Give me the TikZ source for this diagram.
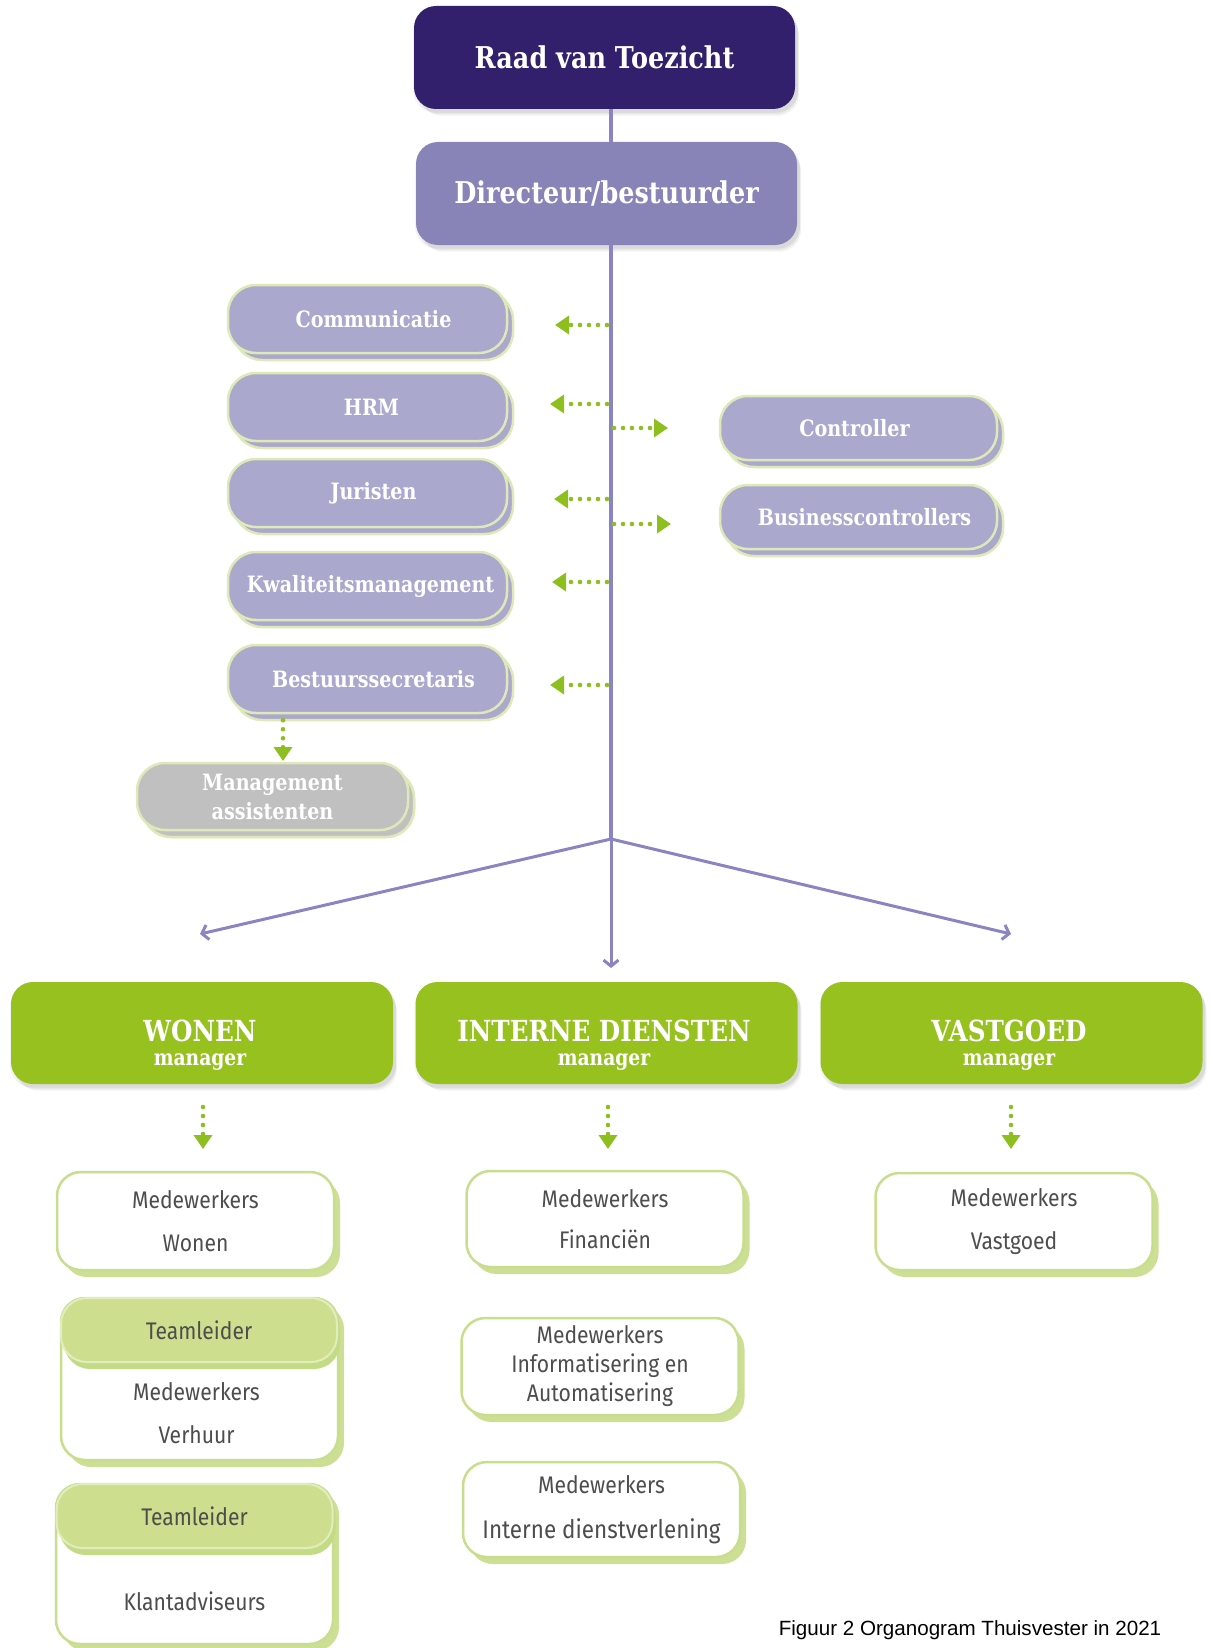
\documentclass[tikz,border=0pt]{standalone}
\usepackage{fontspec}
\usetikzlibrary{arrows.meta,shadows}
\setmainfont{Fira Sans}
\newfontfamily\slab[FakeStretch=0.85]{DejaVu Serif}
\newfontfamily\offi[FakeStretch=0.88]{Fira Sans}
\newfontfamily\capt{Liberation Sans}
\definecolor{raadc}{RGB}{50,32,108}
\definecolor{dirc}{RGB}{136,132,184}
\definecolor{stafffill}{RGB}{170,168,204}
\definecolor{staffborder}{RGB}{222,232,184}
\definecolor{graybox}{RGB}{192,192,192}
\definecolor{linec}{RGB}{138,132,194}
\definecolor{arrowg}{RGB}{141,191,31}
\definecolor{greenbox}{RGB}{151,193,31}
\definecolor{wborder}{RGB}{200,222,142}
\definecolor{wshadow}{RGB}{204,223,148}
\definecolor{hfill}{RGB}{205,223,143}
\definecolor{hborder}{RGB}{226,236,190}
\definecolor{hshadow}{RGB}{196,219,133}
\definecolor{txtgray}{RGB}{77,77,77}
\tikzset{
  softshadow/.style={
    general shadow={fill=black, opacity=0.05, shadow xshift=1pt, shadow yshift=-3pt, shadow scale=1.01},
    general shadow={fill=black, opacity=0.05, shadow xshift=3pt, shadow yshift=-5pt},
    general shadow={fill=black, opacity=0.05, shadow xshift=5pt, shadow yshift=-7pt, shadow scale=0.995}},
  topbox/.style={rounded corners=22pt, minimum width=381pt, minimum height=103pt, inner sep=0pt,
    text=white, font=\slab\bfseries\fontsize{30}{32}\selectfont, softshadow},
  staff/.style={rounded corners=28pt, fill=stafffill, draw=staffborder, line width=2.5pt,
    minimum width=279pt, minimum height=68pt, inner sep=0pt, text=white,
    font=\slab\bfseries\fontsize{22.5}{24}\selectfont,
    general shadow={fill=stafffill, draw=staffborder, line width=2.5pt, shadow xshift=6pt, shadow yshift=-7pt}},
  mgrbox/.style={rounded corners=22pt, fill=greenbox, minimum width=382pt, minimum height=102pt, inner sep=0pt,
    softshadow},
  mgrtext/.style={text=white, align=center, inner sep=0pt, font=\slab\bfseries\fontsize{22}{24}\selectfont},
  wbox/.style={rounded corners=24pt, fill=white, draw=wborder, line width=2.5pt,
    minimum width=277pt, inner sep=0pt, text=txtgray, align=center,
    general shadow={fill=wshadow, shadow xshift=6pt, shadow yshift=-7pt}},
  hbox/.style={rounded corners=26pt, fill=hfill, draw=hborder, line width=2pt,
    minimum width=276pt, minimum height=64pt, inner sep=0pt, text=txtgray,
    font=\offi\fontsize{24}{28}\selectfont,
    general shadow={fill=hshadow, shadow xshift=3pt, shadow yshift=-7pt}},
  wtext/.style={text=txtgray, inner sep=0pt, align=center},
  pline/.style={draw=linec, line width=4pt},
  parrow/.style={draw=linec, line width=3pt, -{Straight Barb[length=6pt,width=15pt,line width=3pt]}},
  garrow/.style={draw=arrowg, line width=4.6pt, line cap=round, dash pattern=on 0pt off 9pt,
    -{Triangle[length=14pt,width=18pt,line cap=butt]}}
}
\begin{document}
\begin{tikzpicture}[x=1pt,y=-1pt]
\useasboundingbox (0,0) rectangle (1210,1648);
\coordinate (br) at (611,839);

% top boxes
\node[topbox, fill=raadc] (raad) at (604.5,57.5) {Raad van Toezicht};
\node[topbox, fill=dirc] (dir) at (606.5,193.5) {Directeur/bestuurder};
\draw[pline] (raad.south -| br) -- (dir.north -| br);
\draw[pline] (dir.south -| br) -- (br);

% staff boxes
\node[staff] (comm) at (367.5,319) {\hspace*{12pt}Communicatie};
\node[staff] (hrm) at (367.5,407) {\hspace*{8pt}HRM};
\node[staff] (jur) at (367.5,493) {\hspace*{12pt}Juristen};
\node[staff] (kwal) at (367.5,586) {\hspace*{6pt}Kwaliteitsmanagement};
\node[staff] (best) at (367.5,679) {\hspace*{12pt}Bestuurssecretaris};
\node[staff, fill=graybox, minimum width=271pt, minimum height=67pt, align=center,
  font=\slab\bfseries\fontsize{22.5}{29}\selectfont,
  general shadow={fill=graybox, draw=staffborder, line width=2.5pt, shadow xshift=6pt, shadow yshift=-7pt}]
  (mgmt) at (272.5,796.5) {Management\\assistenten};
\node[staff, minimum width=277pt, minimum height=64pt] (ctrl) at (858.5,428) {Controller\hspace*{8pt}};
\node[staff, minimum width=277pt, minimum height=64pt] (bctrl) at (858.5,517) {\hspace*{12pt}Businesscontrollers};

% green dotted arrows from the line
\coordinate (c1s) at (607,325); \coordinate (c1e) at (555,325);
\coordinate (c2s) at (607,404); \coordinate (c2e) at (550,404);
\coordinate (c3s) at (614,428); \coordinate (c3e) at (668,428);
\coordinate (c4s) at (607,499); \coordinate (c4e) at (554,499);
\coordinate (c5s) at (614,524); \coordinate (c5e) at (671,524);
\coordinate (c6s) at (607,582); \coordinate (c6e) at (552,582);
\coordinate (c7s) at (607,685); \coordinate (c7e) at (550,685);
\draw[garrow] (c1s) -- (c1e);
\draw[garrow] (c2s) -- (c2e);
\draw[garrow] (c3s) -- (c3e);
\draw[garrow] (c4s) -- (c4e);
\draw[garrow] (c5s) -- (c5e);
\draw[garrow] (c6s) -- (c6e);
\draw[garrow] (c7s) -- (c7e);
\coordinate (m1e) at (283,761);
\draw[garrow] (best.south -| m1e) ++(0,6) -- (m1e);

% branches
\coordinate (bw) at (200,934);
\coordinate (bi) at (611,968);
\coordinate (bv) at (1011,934);
\draw[parrow] (br) -- (bw);
\draw[parrow] (br) -- (bi);
\draw[parrow] (br) -- (bv);

% manager boxes
\node[mgrbox] (wonen) at (202,1033) {};
\node[mgrbox] (intern) at (606.5,1033) {};
\node[mgrbox] (vast) at (1011.5,1033) {};
\node[mgrtext] (wonenT) at (200,1045) {{\fontsize{29}{29}\selectfont WONEN}\\manager};
\node[mgrtext] (internT) at (604,1045) {{\fontsize{29}{29}\selectfont INTERNE DIENSTEN}\\manager};
\node[mgrtext] (vastT) at (1009,1045) {{\fontsize{29}{29}\selectfont VASTGOED}\\manager};

% arrows down
\coordinate (d1s) at (203,1107); \coordinate (d1e) at (203,1149);
\coordinate (d2s) at (608,1107); \coordinate (d2e) at (608,1149);
\coordinate (d3s) at (1011,1107); \coordinate (d3e) at (1011,1149);
\draw[garrow] (d1s) -- (d1e);
\draw[garrow] (d2s) -- (d2e);
\draw[garrow] (d3s) -- (d3e);

% white boxes
\node[wbox, minimum height=98pt, font=\offi\fontsize{24}{43}\selectfont] (mwon) at (195.5,1221) {Medewerkers\\Wonen};
\node[wbox, minimum height=96pt, font=\offi\fontsize{24}{41}\selectfont] (mfin) at (605,1219) {Medewerkers\\Financiën};
\node[wbox, minimum height=97pt, font=\offi\fontsize{24}{43}\selectfont] (mvas) at (1014,1221.5) {Medewerkers\\Vastgoed};
\node[wbox, minimum height=97pt, font=\offi\fontsize{24}{29}\selectfont] (minf) at (600,1366.5) {Medewerkers\\Informatisering en\\Automatisering};
\node[wbox, minimum height=95pt, font=\offi\fontsize{24}{45}\selectfont] (mid) at (601.5,1509.5) {Medewerkers\\{\fontsize{25.5}{45}\selectfont Interne dienstverlening}};

% Teamleider groups
\node[wbox, minimum height=162pt] (verh) at (199.5,1379) {};
\node[hbox] (tl1) at (199,1330) {Teamleider};
\node[wtext, font=\offi\fontsize{24}{43}\selectfont] (verhT) at (196.5,1413) {Medewerkers\\Verhuur};
\node[wbox, minimum height=160pt] (klant) at (194.5,1564) {};
\node[hbox] (tl2) at (194.5,1516) {Teamleider};
\node[wtext, font=\offi\fontsize{24}{28}\selectfont, anchor=base] (klantT) at (194.5,1610) {Klantadviseurs};

% caption
\node[font=\capt\fontsize{20.6}{24}\selectfont, anchor=base, inner sep=0pt] (cap) at (970,1635) {Figuur 2 Organogram Thuisvester in 2021};
\end{tikzpicture}
\end{document}
